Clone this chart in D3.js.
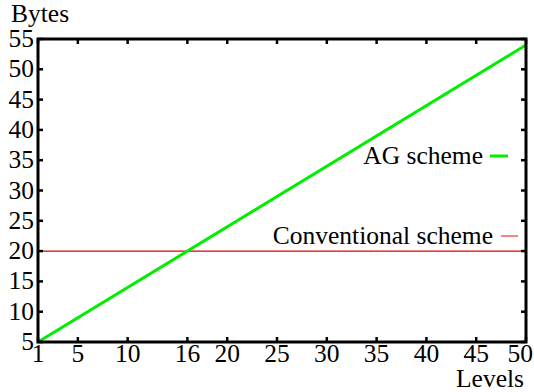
<!DOCTYPE html>
<html>
<head>
<meta charset="utf-8">
<script src="https://cdn.jsdelivr.net/npm/d3@7"></script>
<style>
	body { margin: 0; background: #fff; }
	text { font-family: "Liberation Serif", "Times New Roman", serif; fill: #000; }
</style>
</head>
<body>
<div id="chart"></div>
<script>
// data
var levels = [1, 50];
var agScheme = [5, 54];
var conventional = [20, 20];
var xTicks = [1, 5, 10, 16, 20, 25, 30, 35, 40, 45, 50];
var yTicks = [5, 10, 15, 20, 25, 30, 35, 40, 45, 50, 55];

var width = 534, height = 392;
var margin = {left: 38, right: 8, top: 39, bottom: 50};
var fontSize = 25.5;

var x = d3.scaleLinear().domain([1, 50]).range([margin.left, width - margin.right]);
var y = d3.scaleLinear().domain([5, 55]).range([height - margin.bottom, margin.top]);

var svg = d3.select("#chart").append("svg")
	.attr("width", width)
	.attr("height", height);

// series lines
var line = function(vals) {
	return d3.line()
		.x(function(d, i) { return x(levels[i]); })
		.y(function(d) { return y(d); })(vals);
}

svg.append("path")
	.attr("d", line(conventional))
	.attr("fill", "none")
	.attr("stroke", "#dd0000")
	.attr("stroke-width", 1.2);

svg.append("path")
	.attr("d", line(agScheme))
	.attr("fill", "none")
	.attr("stroke", "#00ee00")
	.attr("stroke-width", 3);

// ticks, inward on all sides
var tickLen = 5;
var ticks = svg.append("g").attr("stroke", "#000").attr("stroke-width", 2.5);
xTicks.forEach(function(t) {
	ticks.append("line").attr("x1", x(t)).attr("x2", x(t)).attr("y1", y(5)).attr("y2", y(5) - tickLen);
	ticks.append("line").attr("x1", x(t)).attr("x2", x(t)).attr("y1", y(55)).attr("y2", y(55) + tickLen);
});
yTicks.forEach(function(t) {
	ticks.append("line").attr("x1", x(1)).attr("x2", x(1) + tickLen).attr("y1", y(t)).attr("y2", y(t));
	ticks.append("line").attr("x1", x(50)).attr("x2", x(50) - tickLen).attr("y1", y(t)).attr("y2", y(t));
});

// frame
svg.append("rect")
	.attr("x", x(1))
	.attr("y", y(55))
	.attr("width", x(50) - x(1))
	.attr("height", y(5) - y(55))
	.attr("fill", "none")
	.attr("stroke", "#000")
	.attr("stroke-width", 3);

// tick labels; last one kept inside the page edge
svg.selectAll(".xlab")
	.data(xTicks)
	.enter().append("text")
	.attr("class", "xlab")
	.attr("x", function(d, i) { return i === xTicks.length - 1 ? width - 1 : x(d); })
	.attr("y", y(5) + 20)
	.attr("text-anchor", function(d, i) { return i === xTicks.length - 1 ? "end" : "middle"; })
	.style("font-size", fontSize + "px")
	.text(function(d) { return d; });

svg.selectAll(".ylab")
	.data(yTicks)
	.enter().append("text")
	.attr("class", "ylab")
	.attr("x", x(1) - 4)
	.attr("y", function(d) { return y(d) + 8; })
	.attr("text-anchor", "end")
	.style("font-size", fontSize + "px")
	.text(function(d) { return d; });

// axis titles
svg.append("text")
	.attr("x", 11)
	.attr("y", 22)
	.style("font-size", fontSize + "px")
	.text("Bytes");

svg.append("text")
	.attr("x", 524)
	.attr("y", 387)
	.attr("text-anchor", "end")
	.style("font-size", fontSize + "px")
	.text("Levels");

// legend
var legend = [
	{name: "AG scheme", color: "#00ee00", w: 3, y: 156, textEnd: 483, x1: 490, x2: 508},
	{name: "Conventional scheme", color: "#ee3333", w: 1.2, y: 236, textEnd: 493, x1: 501, x2: 518}
];
legend.forEach(function(l) {
	svg.append("text")
		.attr("x", l.textEnd)
		.attr("y", l.y + 8)
		.attr("text-anchor", "end")
		.style("font-size", fontSize + "px")
		.text(l.name);
	svg.append("line")
		.attr("x1", l.x1).attr("x2", l.x2)
		.attr("y1", l.y).attr("y2", l.y)
		.attr("stroke", l.color)
		.attr("stroke-width", l.w);
});
</script>
</body>
</html>
